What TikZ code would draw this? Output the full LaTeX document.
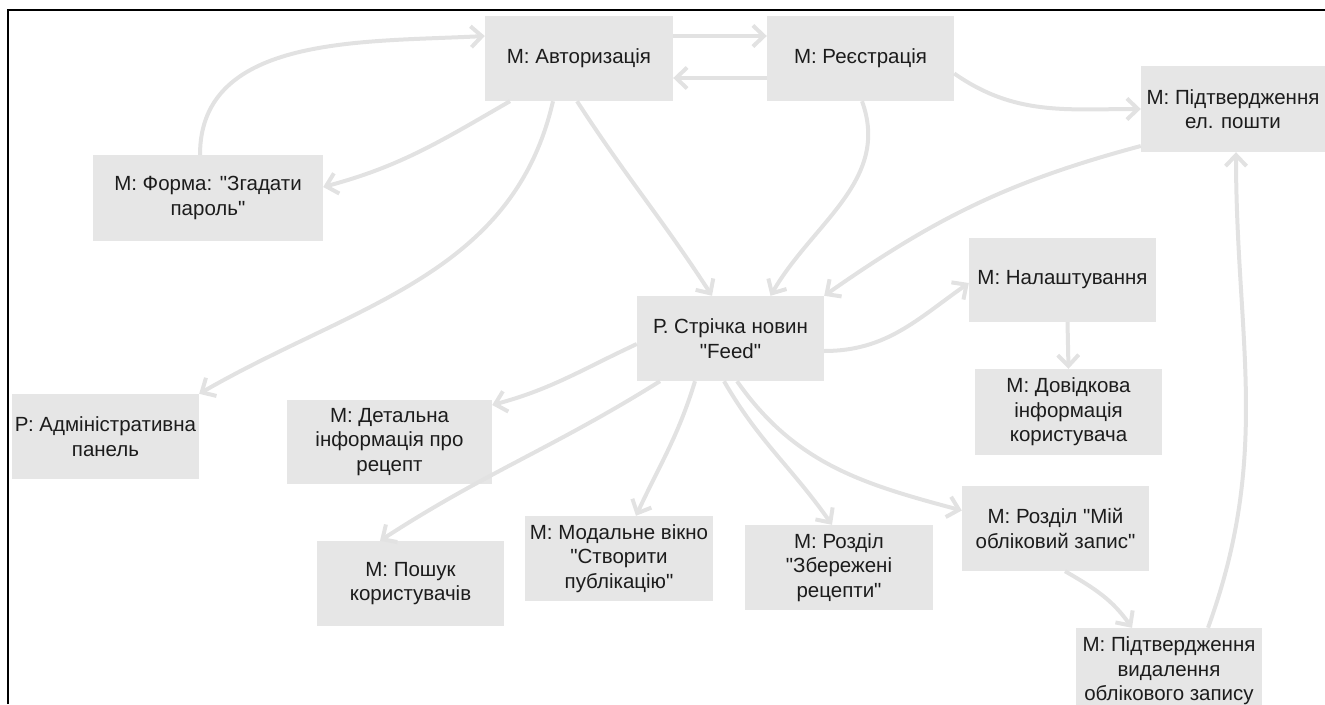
\documentclass[tikz,border=0pt]{standalone}
\usepackage{fontspec}
\setmainfont{Liberation Sans}[Ligatures=TeXOff]
\usetikzlibrary{arrows.meta}
\definecolor{boxfill}{RGB}{230,230,230}
\definecolor{linkgray}{RGB}{226,226,226}
\definecolor{inktext}{RGB}{28,28,28}
\begin{document}
\begin{tikzpicture}[x=1pt,y=1pt,
  screen/.style={rectangle, fill=boxfill, draw=none, inner sep=0pt, align=center,
    text=inktext, font=\fontsize{20.5}{24.5}\selectfont},
  link/.style={draw=linkgray, line width=4pt, line cap=butt,
    -{Straight Barb[length=11pt,width=21pt,line width=4pt]}},
  frame/.style={draw=black, line width=2pt}]
\useasboundingbox (0,0) rectangle (1325,-704);
\clip (0,0) rectangle (1325,-704);

% page frame
\draw[frame] (8,-704) -- (8,-10) -- (1325,-10);

% screens
\node[screen, minimum width=188pt, minimum height=85pt] (auth) at (579,-58.5) {М: Авторизація};
\node[screen, minimum width=187pt, minimum height=85pt] (reg) at (860.5,-58.5) {М: Реєстрація};
\node[screen, minimum width=184pt, minimum height=86pt] (email) at (1233,-109) {М: Підтвердження\\ел. пошти};
\node[screen, minimum width=230pt, minimum height=86pt] (forma) at (208,-198) {М: Форма: "Згадати\\пароль"};
\node[screen, minimum width=187pt, minimum height=85pt] (admin) at (105.5,-436.5) {Р: Адміністративна\\панель};
\node[screen, minimum width=205pt, minimum height=84pt] (detail) at (389.5,-442) {М: Детальна\\інформація про\\рецепт};
\node[screen, minimum width=187pt, minimum height=85pt] (feed) at (730.5,-338.5) {Р. Стрічка новин\\"Feed"};
\node[screen, minimum width=187pt, minimum height=84pt] (settings) at (1062.5,-280) {М: Налаштування};
\node[screen, minimum width=187pt, minimum height=86pt] (help) at (1068.5,-412) {М: Довідкова\\інформація\\користувача};
\node[screen, minimum width=187pt, minimum height=85pt] (search) at (410.5,-583.5) {М: Пошук\\користувачів};
\node[screen, minimum width=188pt, minimum height=85pt] (modal) at (619,-558.5) {М: Модальне вікно\\"Створити\\публікацію"};
\node[screen, minimum width=188pt, minimum height=85pt] (saved) at (839,-567.5) {М: Розділ\\"Збережені\\рецепти"};
\node[screen, minimum width=187pt, minimum height=85pt] (account) at (1055.5,-528.5) {М: Розділ "Мій\\обліковий запис"};
\node[screen, minimum width=186pt, minimum height=86pt] (delconf) at (1169,-671) {М: Підтвердження\\видалення\\облікового запису};

% transitions
\draw[link] ([xshift=-8pt]forma.north) to[out=90, in=183] ([yshift=22.5pt]auth.west);
\draw[link] ([yshift=22.5pt]auth.east) -- ([yshift=22.5pt]reg.west);
\draw[link] ([yshift=-19.5pt]reg.west) -- ([yshift=-19.5pt]auth.east);
\draw[link] ([xshift=-69pt]auth.south) to[out=-150, in=15] ([yshift=11pt]forma.east);
\draw[link] ([xshift=-26pt]auth.south) to[out=-103, in=30] (admin.north east);
\draw[link] ([xshift=-2pt]auth.south) to[out=-57, in=123] ([xshift=-18.5pt]feed.north);
\draw[link] ([xshift=1.5pt]reg.south) to[out=-70, in=60] ([xshift=40pt]feed.north);
\draw[link] ([yshift=-15pt]reg.east) to[out=-35, in=180] (email.west);
\draw[link] ([yshift=-37pt]email.west) to[out=195, in=35] (feed.north east);
\draw[link] ([yshift=-12.5pt]feed.east) to[out=0, in=215] ([yshift=-3pt]settings.west);
\draw[link] ([xshift=5pt]settings.south) -- (help.north);
\draw[link] ([yshift=-5.5pt]feed.west) to[out=-155, in=15] ([yshift=37pt]detail.east);
\draw[link] ([xshift=-70.5pt]feed.south) to[out=-148, in=33] ([xshift=-30.5pt]search.north);
\draw[link] ([xshift=-35.5pt]feed.south) to[out=-107, in=65] ([xshift=17pt]modal.north);
\draw[link] ([xshift=-6.5pt]feed.south) to[out=-60, in=125] ([xshift=-7pt]saved.north);
\draw[link] ([xshift=6.5pt]feed.south) to[out=-55, in=165] ([yshift=18pt]account.west);
\draw[link] ([xshift=9.5pt]account.south) to[out=-30, in=125] ([xshift=-37pt]delconf.north);
\draw[link] ([xshift=39pt]delconf.north) to[out=70, in=-90] ([xshift=3pt]email.south);
\end{tikzpicture}
\end{document}
